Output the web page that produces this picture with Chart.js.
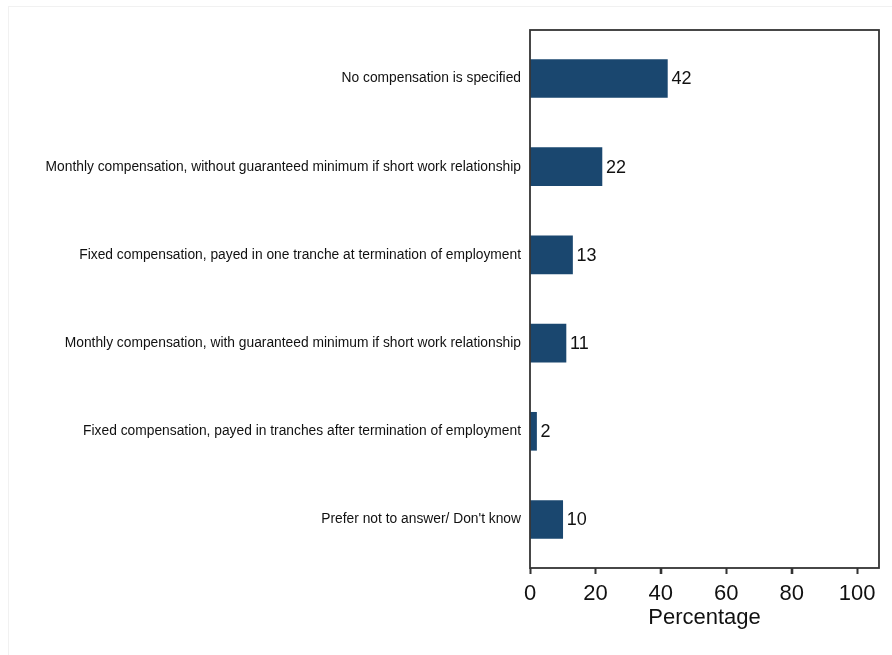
<!DOCTYPE html>
<html>
<head>
<meta charset="utf-8">
<script src="https://cdn.jsdelivr.net/npm/chart.js@4"></script>
<style>
html,body{margin:0;padding:0;background:#fff;}
#wrap{width:892px;height:655px;position:relative;}
</style>
</head>
<body>
<div id="wrap"><canvas id="c" width="892" height="655"></canvas></div>
<script>
const categories = [
  "No compensation is specified",
  "Monthly compensation, without guaranteed minimum if short work relationship",
  "Fixed compensation, payed in one tranche at termination of employment",
  "Monthly compensation, with guaranteed minimum if short work relationship",
  "Fixed compensation, payed in tranches after termination of employment",
  "Prefer not to answer/ Don't know"
];
const percentages = [42, 22, 13, 11, 2, 10];
const valueLabels = ["42", "22", "13", "11", "2", "10"];
const xTicks = [0, 20, 40, 60, 80, 100];

const FONT = "'Liberation Sans', Arial, sans-serif";
const NAVY = "rgb(26,71,111)";

const points = percentages.map((v, i) => ({ x: v, y: i }));

const frameAndLabels = {
  id: 'frameAndLabels',
  beforeDraw(chart) {
    const ctx = chart.ctx;
    ctx.save();
    ctx.strokeStyle = '#f1f1f1';
    ctx.lineWidth = 1;
    ctx.strokeRect(8.5, 6.5, 900, 700);
    ctx.restore();
  },
  afterDatasetsDraw(chart) {
    const ctx = chart.ctx;
    const a = chart.chartArea;
    ctx.save();
    ctx.strokeStyle = '#333';
    ctx.lineWidth = 1.8;
    ctx.strokeRect(a.left, a.top, a.right - a.left, a.bottom - a.top);
    // x tick marks
    const xs = chart.scales.x;
    ctx.lineWidth = 1.6;
    ctx.beginPath();
    xTicks.forEach(v => {
      const px = Math.round(xs.getPixelForValue(v)) + 0.5;
      ctx.moveTo(px, a.bottom);
      ctx.lineTo(px, a.bottom + 6);
    });
    ctx.stroke();
    const meta = chart.getDatasetMeta(0);
    ctx.fillStyle = '#111';
    ctx.font = "18px " + FONT;
    ctx.textAlign = 'left';
    ctx.textBaseline = 'middle';
    meta.data.forEach((bar, i) => {
      ctx.fillText(valueLabels[i], bar.x + 4, bar.y + 1);
    });
    ctx.restore();
  }
};

new Chart(document.getElementById('c'), {
  type: 'bar',
  data: {
    datasets: [{
      data: points,
      backgroundColor: NAVY,
      borderWidth: 0,
      barThickness: 38
    }]
  },
  options: {
    indexAxis: 'y',
    responsive: false,
    animation: false,
    events: [],
    layout: { padding: { left: 0, right: 13, top: 30, bottom: 24 } },
    plugins: { legend: { display: false }, tooltip: { enabled: false } },
    scales: {
      x: {
        type: 'linear',
        bounds: 'data',
        min: 0,
        max: 106.7,
        afterBuildTicks: s => { s.ticks = xTicks.map(v => ({ value: v })); },
        afterFit: s => { s.height = 655 - 24 - 568; },
        grid: { display: true, drawOnChartArea: false, drawTicks: true, tickLength: 6, tickColor: '#333', tickWidth: 1.6 },
        border: { display: false },
        ticks: { color: '#111', font: { family: FONT, size: 22 }, padding: 7, maxRotation: 0 },
        title: { display: true, text: 'Percentage', color: '#111', font: { family: FONT, size: 22 }, padding: { top: 0, bottom: 0 } }
      },
      y: {
        type: 'linear',
        bounds: 'data',
        offset: false,
        reverse: true,
        min: -0.55,
        max: 5.55,
        afterBuildTicks: s => { s.ticks = categories.map((c, i) => ({ value: i })); },
        afterFit: s => { s.width = 530; },
        grid: { display: false, drawTicks: false, offset: false },
        border: { display: false },
        ticks: {
          color: '#111',
          font: { family: FONT, size: 13.8 },
          padding: 9,
          autoSkip: false,
          callback: v => categories[v]
        }
      }
    }
  },
  plugins: [frameAndLabels]
});
</script>
</body>
</html>
